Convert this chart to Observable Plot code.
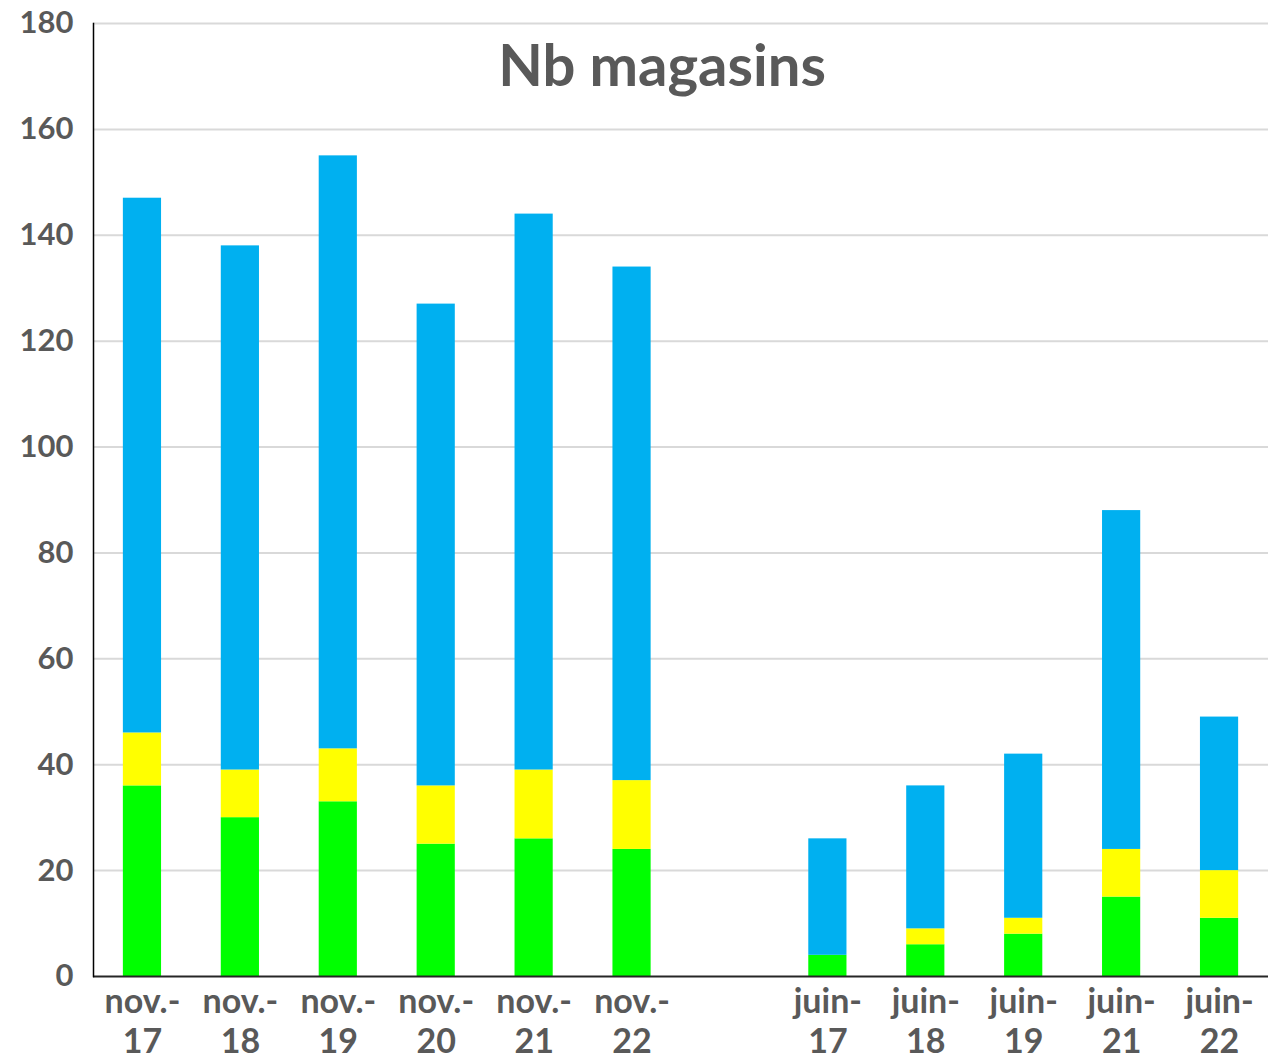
<!DOCTYPE html>
<html><head><meta charset="utf-8">
<script src="https://cdn.jsdelivr.net/npm/d3@7"></script>
<script src="https://cdn.jsdelivr.net/npm/@observablehq/plot@0.6"></script>
<style>body{margin:0;background:#fff}</style>
</head><body><div id="chart"></div>
<script>
const categories = ["nov.-17","nov.-18","nov.-19","nov.-20","nov.-21","nov.-22"," ","juin-17","juin-18","juin-19","juin-21","juin-22"];
const seriesNames = ["vert","jaune","bleu"];
const seriesColors = ["#00ff00","#ffff00","#00b0f0"];
const greenValues = [36,30,33,25,26,24,null,4,6,8,15,11];
const yellowValues = [10,9,10,11,13,13,null,0,3,3,9,9];
const blueValues = [101,99,112,91,105,97,null,22,27,31,64,29];
const yTicks = [0,20,40,60,80,100,120,140,160,180];
const title = "Nb magasins";

const rows = [];
categories.forEach((c, i) => {
  if (greenValues[i] == null) return;
  rows.push({cat: c, serie: "vert", value: greenValues[i]});
  rows.push({cat: c, serie: "jaune", value: yellowValues[i]});
  rows.push({cat: c, serie: "bleu", value: blueValues[i]});
});

const gray = "#595959";
const chart = Plot.plot({
  width: 1268,
  height: 1060,
  marginLeft: 93,
  marginRight: 0,
  marginTop: 23,
  marginBottom: 84,
  style: {fontFamily: "Lato, sans-serif", background: "#fff"},
  x: {domain: categories, paddingInner: 0.61, paddingOuter: 0.305, round: false, label: null},
  y: {domain: [0, 180], label: null},
  color: {domain: seriesNames, range: seriesColors},
  marks: [
    Plot.gridY(yTicks.filter(d => d > 0), {stroke: "#d9d9d9", strokeOpacity: 1, strokeWidth: 2}),
    Plot.barY(rows, {x: "cat", y: "value", fill: "serie"}),
    Plot.ruleY([0], {stroke: "#262626", strokeWidth: 2}),
    Plot.frame({anchor: "left", stroke: "#000", strokeWidth: 1.5}),
    Plot.axisY(yTicks, {tickSize: 0, tickPadding: 20, fontSize: 31, fontWeight: 700, fill: gray, label: null}),
    Plot.axisX({tickSize: 0, tickPadding: 8, fontSize: 34, fontWeight: 700, fill: gray, lineHeight: 1.18, label: null,
      tickFormat: d => d.trim() === "" ? "" : d.replace("-", "-\n")}),
    Plot.text([title], {frameAnchor: "top", lineAnchor: "top", dx: -19, dy: 21, fontSize: 58, fontWeight: 700, fill: gray})
  ]
});
document.getElementById("chart").append(chart);
</script>
</body></html>
